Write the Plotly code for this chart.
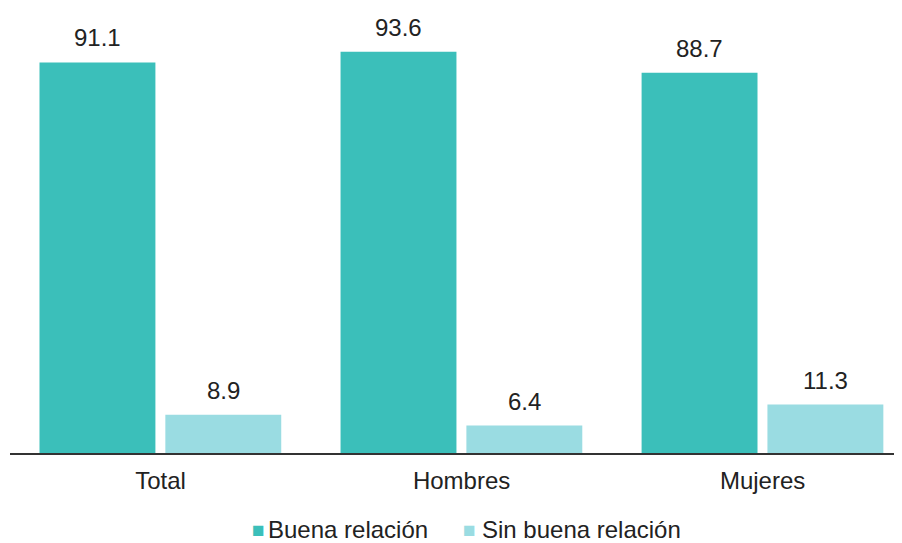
import plotly.graph_objects as go

categories = ["Total", "Hombres", "Mujeres"]
buena = [91.1, 93.6, 88.7]
sin_buena = [8.9, 6.4, 11.3]
series_names = ["Buena relación", "Sin buena relación"]
colors = ["#3BBFBA", "#9ADCE2"]

pos = list(range(len(categories)))
bar_w = 0.385
offsets = [-0.402, 0.016]
FONT = "Liberation Sans, Arial"
FS = 24
TXT = "#222222"

fig = go.Figure()
for vals, name, col, off in zip([buena, sin_buena], series_names, colors, offsets):
    fig.add_trace(go.Bar(
        x=pos, y=vals, name=name, marker=dict(color=col, line=dict(width=0)),
        width=bar_w, offset=off, hoverinfo="skip", showlegend=False,
    ))

annotations = []
for vals, off in zip([buena, sin_buena], offsets):
    for p, v in zip(pos, vals):
        annotations.append(dict(
            x=p + off + bar_w / 2, y=v, xref="x", yref="y",
            text=f"{v:.1f}", showarrow=False, yanchor="bottom", yshift=9,
            font=dict(family=FONT, size=FS, color=TXT),
        ))

# legend built from annotations (marker square + label)
legend_marker_x = [0.2713, 0.5078]
legend_text_x = [0.2892, 0.5291]
legend_y = -0.176
for name, col, mx, tx in zip(series_names, colors, legend_marker_x, legend_text_x):
    annotations.append(dict(
        x=mx, y=legend_y, xref="paper", yref="paper", xanchor="left", yanchor="middle",
        text="■", showarrow=False, borderpad=0, borderwidth=0,
        font=dict(family=FONT, size=21, color=col),
    ))
    annotations.append(dict(
        x=tx, y=legend_y, xref="paper", yref="paper", xanchor="left", yanchor="middle",
        text=name, showarrow=False, borderpad=0, borderwidth=0,
        font=dict(family=FONT, size=FS, color=TXT),
    ))

fig.update_layout(
    width=894, height=535,
    margin=dict(l=2, r=0, t=12, b=90),
    plot_bgcolor="white", paper_bgcolor="white",
    barmode="overlay",
    showlegend=False,
    annotations=annotations,
    font=dict(family=FONT, size=FS, color=TXT),
    xaxis=dict(range=[-0.5, 2.463], tickvals=pos, ticktext=categories,
               showgrid=False, zeroline=False, showline=True, linecolor="#333333", linewidth=2,
               ticks="outside", ticklen=5, tickcolor="rgba(0,0,0,0)", fixedrange=True),
    yaxis=dict(range=[0, 101], visible=False, fixedrange=True),
)

fig.write_html("out.html")
